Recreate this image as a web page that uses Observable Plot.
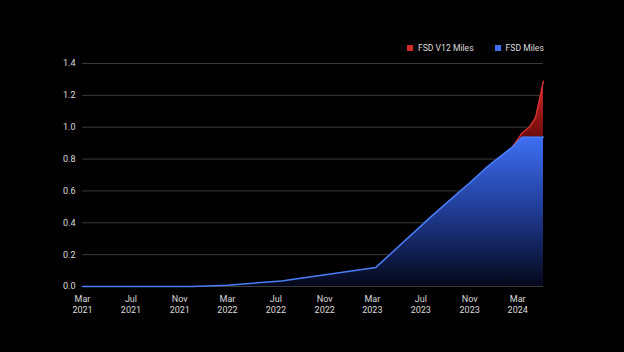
<!DOCTYPE html>
<html>
<head>
<meta charset="utf-8">
<script src="https://cdn.jsdelivr.net/npm/d3@7"></script>
<script src="https://cdn.jsdelivr.net/npm/@observablehq/plot@0.6"></script>
<style>
  html, body { margin: 0; padding: 0; background: #000; }
  #wrap { position: relative; width: 624px; height: 352px; background: #000; overflow: hidden; }
  #legend { position: absolute; top: 43px; left: 407px; display: flex; gap: 21px; font: 8.6px Roboto, sans-serif; color: #dcdcdc; }
  #legend span.item { display: flex; align-items: center; }
  #legend i { display: inline-block; width: 6px; height: 6px; margin-right: 5px; }
</style>
</head>
<body>
<div id="wrap">
  <div id="legend"></div>
</div>
<script>
// Data (billions of cumulative miles)
const dates = ["2021-03-01","2021-12-01","2022-03-01","2022-07-15","2023-03-10","2023-07-25","2023-10-09","2023-11-01","2023-12-15","2024-01-01","2024-02-16","2024-03-12","2024-04-01","2024-04-15","2024-05-05"];
const fsdMiles   = [0, 0, 0.008, 0.035, 0.12, 0.434, 0.60, 0.65, 0.75, 0.784, 0.874, 0.937, 0.937, 0.937, 0.937];
const totalMiles = [0, 0, 0.008, 0.035, 0.12, 0.434, 0.60, 0.65, 0.75, 0.784, 0.874, 0.963, 1.005, 1.06, 1.29];
const seriesNames = ["FSD V12 Miles", "FSD Miles"];
const seriesColors = ["#d42a2a", "#3f6ff0"];
const yTicks = [0, 0.2, 0.4, 0.6, 0.8, 1.0, 1.2, 1.4];
const xTickDates = ["2021-03-01","2021-07-01","2021-11-01","2022-03-01","2022-07-01","2022-11-01","2023-03-01","2023-07-01","2023-11-01","2024-03-01"];

const parse = d3.utcParse("%Y-%m-%d");
const rows = dates.map((d, i) => ({date: parse(d), fsd: fsdMiles[i], total: totalMiles[i]}));
const redRows = rows.filter(r => r.date >= parse("2024-02-16"));

const defs = () => {
  const ns = "http://www.w3.org/2000/svg";
  const g = document.createElementNS(ns, "defs");
  const mk = (id, stops) => {
    const lg = document.createElementNS(ns, "linearGradient");
    lg.setAttribute("id", id);
    lg.setAttribute("x1", "0"); lg.setAttribute("y1", "0");
    lg.setAttribute("x2", "0"); lg.setAttribute("y2", "1");
    stops.forEach(([o, c]) => {
      const s = document.createElementNS(ns, "stop");
      s.setAttribute("offset", o); s.setAttribute("stop-color", c);
      lg.appendChild(s);
    });
    g.appendChild(lg);
  };
  mk("blueGrad", [["0%", "#3e6ff3"], ["45%", "#22409e"], ["100%", "#05081a"]]);
  mk("redGrad", [["0%", "#d82626"], ["100%", "#5a0808"]]);
  return g;
};

const chart = Plot.plot({
  width: 624,
  height: 352,
  marginLeft: 82,
  marginRight: 81,
  marginTop: 63,
  marginBottom: 66,
  style: {background: "#000", color: "#dcdcdc", fontFamily: "Roboto, sans-serif", fontSize: "9px"},
  x: {type: "utc", domain: [rows[0].date, rows[rows.length - 1].date]},
  y: {domain: [0, 1.4]},
  marks: [
    defs,
    Plot.ruleY(yTicks, {stroke: "#3a3a3a", strokeWidth: 1}),
    Plot.areaY(redRows, {x: "date", y1: "fsd", y2: "total", fill: "url(#redGrad)"}),
    Plot.areaY(rows, {x: "date", y1: 0, y2: "fsd", fill: "url(#blueGrad)"}),
    Plot.lineY(redRows, {x: "date", y: "total", stroke: "#e03434", strokeWidth: 1.2}),
    Plot.lineY(rows, {x: "date", y: "fsd", stroke: "#4a7cf6", strokeWidth: 1.5}),
    Plot.axisY({ticks: yTicks, tickFormat: d3.format(".1f"), tickSize: 0, tickPadding: 7, fill: "#dcdcdc", fontSize: 9}),
    Plot.axisX({ticks: xTickDates.map(parse), tickFormat: d => d3.utcFormat("%b")(d) + "\n" + d3.utcFormat("%Y")(d), tickSize: 0, tickPadding: 7, lineHeight: 1.25, fill: "#dcdcdc", fontSize: 9})
  ]
});
document.getElementById("wrap").prepend(chart);

const legend = document.getElementById("legend");
seriesNames.forEach((n, i) => {
  const s = document.createElement("span");
  s.className = "item";
  const sw = document.createElement("i");
  sw.style.background = seriesColors[i];
  s.appendChild(sw);
  s.appendChild(document.createTextNode(n));
  legend.appendChild(s);
});
</script>
</body>
</html>
